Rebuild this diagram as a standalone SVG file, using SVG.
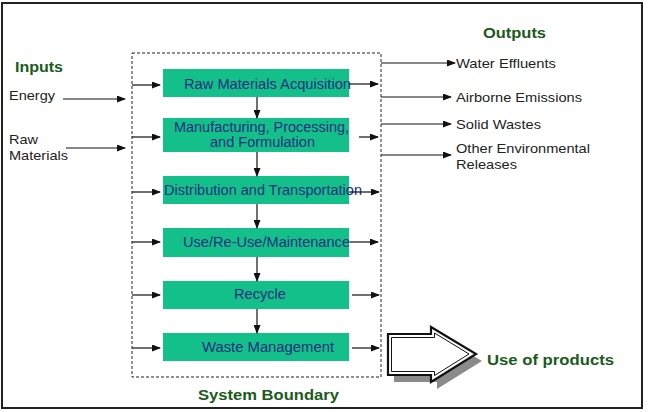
<svg xmlns="http://www.w3.org/2000/svg" width="648" height="412" viewBox="0 0 648 412">
<style>
.box{fill:#14c08a;}
.bt{font-family:"Liberation Sans",Arial,sans-serif;font-size:14px;fill:#1a2f80;}
.t{font-family:"Liberation Sans",Arial,sans-serif;font-size:13.5px;fill:#222;}
.h{font-family:"Liberation Sans",Arial,sans-serif;font-size:14.5px;font-weight:bold;fill:#1a5a1a;}
.c{stroke:#111;stroke-width:1.2;fill:none;marker-end:url(#ah);}
</style>
<defs>
<marker id="ah" markerUnits="userSpaceOnUse" markerWidth="9" markerHeight="7" refX="8" refY="3.5" orient="auto">
<path d="M0,0 L9,3.5 L0,7 z" fill="#111"/>
</marker>
</defs>
<rect x="0" y="0" width="648" height="412" fill="#fff"/>
<rect x="2" y="3" width="640" height="405" fill="none" stroke="#222" stroke-width="2"/>
<g id="boundary">
<rect x="132" y="53" width="249" height="324" fill="none" stroke="#222" stroke-width="1" stroke-dasharray="3,2"/>
<text class="h" x="198" y="400" textLength="141" lengthAdjust="spacingAndGlyphs">System Boundary</text>
</g>
<g id="inputs">
<text class="h" x="15" y="72" textLength="48" lengthAdjust="spacingAndGlyphs">Inputs</text>
<text class="t" x="9" y="100" textLength="46" lengthAdjust="spacingAndGlyphs">Energy</text>
<text class="t" x="9" y="144" textLength="29" lengthAdjust="spacingAndGlyphs">Raw</text>
<text class="t" x="9" y="160" textLength="59" lengthAdjust="spacingAndGlyphs">Materials</text>
</g>
<g id="outputs">
<text class="h" x="483" y="38" textLength="63" lengthAdjust="spacingAndGlyphs">Outputs</text>
<text class="t" x="456" y="68" textLength="100" lengthAdjust="spacingAndGlyphs">Water Effluents</text>
<text class="t" x="456" y="102" textLength="126" lengthAdjust="spacingAndGlyphs">Airborne Emissions</text>
<text class="t" x="456" y="129" textLength="85" lengthAdjust="spacingAndGlyphs">Solid Wastes</text>
<text class="t" x="456" y="153" textLength="134" lengthAdjust="spacingAndGlyphs">Other Environmental</text>
<text class="t" x="456" y="169" textLength="61" lengthAdjust="spacingAndGlyphs">Releases</text>
</g>
<g id="n1">
<rect class="box" x="163" y="69" width="186" height="28"/>
<text class="bt" x="184" y="89" textLength="167" lengthAdjust="spacingAndGlyphs">Raw Materials Acquisition</text>
</g>
<g id="n2">
<rect class="box" x="163" y="118" width="186" height="34"/>
<text class="bt" x="174" y="132" textLength="175" lengthAdjust="spacingAndGlyphs">Manufacturing, Processing,</text>
<text class="bt" x="210" y="147" textLength="105" lengthAdjust="spacingAndGlyphs">and Formulation</text>
</g>
<g id="n3">
<rect class="box" x="163" y="176" width="186" height="28"/>
<text class="bt" x="164" y="195" textLength="198" lengthAdjust="spacingAndGlyphs">Distribution and Transportation</text>
</g>
<g id="n4">
<rect class="box" x="163" y="228" width="186" height="29"/>
<text class="bt" x="183" y="247" textLength="167" lengthAdjust="spacingAndGlyphs">Use/Re-Use/Maintenance</text>
</g>
<g id="n5">
<rect class="box" x="163" y="281" width="186" height="28"/>
<text class="bt" x="234" y="299" textLength="52" lengthAdjust="spacingAndGlyphs">Recycle</text>
</g>
<g id="n6">
<rect class="box" x="163" y="333" width="186" height="28"/>
<text class="bt" x="202" y="352" textLength="132" lengthAdjust="spacingAndGlyphs">Waste Management</text>
</g>
<g id="use-of-products">
<path d="M394,341 L437,341 L437,334 L482,361 L437,389 L437,382 L394,382 Z" fill="#8a8a8a"/>
<path d="M388,334 L431,334 L431,327 L476,354 L431,382 L431,375 L388,375 Z" fill="#fff" stroke="#111" stroke-width="2.2"/>
<path d="M391.5,337.5 L434.5,337.5 L434.5,333 L469,354 L434.5,375.5 L434.5,371.5 L391.5,371.5 Z" fill="#fff" stroke="#111" stroke-width="1"/>
<text class="h" x="487" y="365" textLength="127" lengthAdjust="spacingAndGlyphs">Use of products</text>
</g>
<g id="connectors">
<line class="c" x1="63" y1="99" x2="125" y2="99"/>
<line class="c" x1="66" y1="148" x2="125" y2="148"/>
<line class="c" x1="132" y1="85" x2="160" y2="85"/>
<line class="c" x1="132" y1="137" x2="160" y2="137"/>
<line class="c" x1="132" y1="192" x2="160" y2="192"/>
<line class="c" x1="132" y1="242" x2="160" y2="242"/>
<line class="c" x1="132" y1="295" x2="160" y2="295"/>
<line class="c" x1="132" y1="348" x2="160" y2="348"/>
<line class="c" x1="349" y1="84" x2="378" y2="84"/>
<line class="c" x1="359" y1="137" x2="378" y2="137"/>
<line class="c" x1="349" y1="192" x2="379" y2="192"/>
<line class="c" x1="350" y1="242" x2="378" y2="242"/>
<line class="c" x1="352" y1="295" x2="379" y2="295"/>
<line class="c" x1="352" y1="348" x2="379" y2="348"/>
<line class="c" x1="257" y1="97" x2="257" y2="118"/>
<line class="c" x1="257" y1="152" x2="257" y2="176"/>
<line class="c" x1="257" y1="204" x2="257" y2="228"/>
<line class="c" x1="257" y1="257" x2="257" y2="281"/>
<line class="c" x1="257" y1="309" x2="257" y2="333"/>
<line class="c" x1="381" y1="63" x2="455" y2="63"/>
<line class="c" x1="381" y1="97" x2="451" y2="97"/>
<line class="c" x1="381" y1="124" x2="451" y2="124"/>
<line class="c" x1="381" y1="155" x2="451" y2="155"/>
</g>
</svg>
